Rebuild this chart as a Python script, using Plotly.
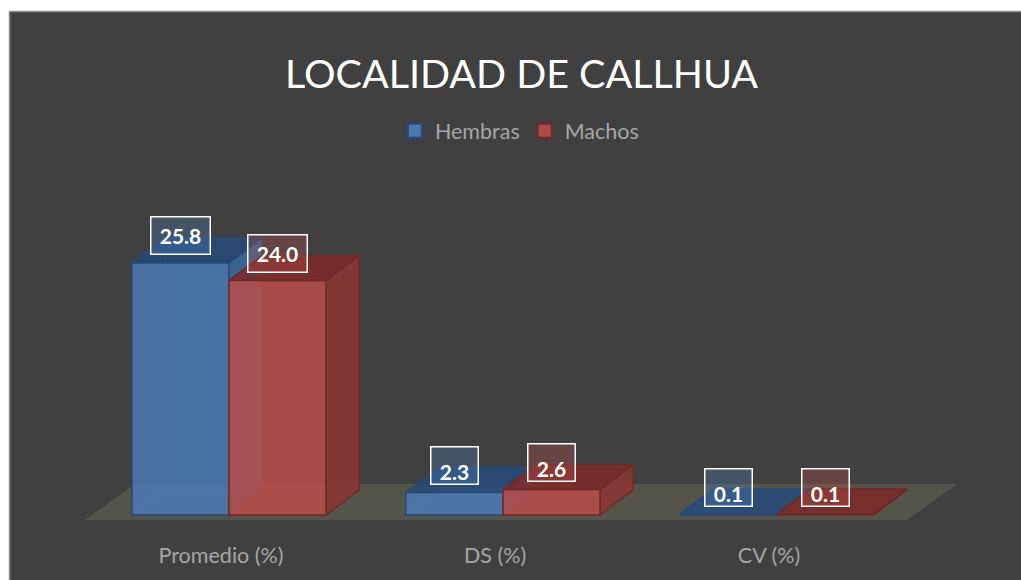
import plotly.graph_objects as go

categories = ["Promedio (%)", "DS (%)", "CV (%)"]
hembras = [25.8, 2.3, 0.1]
machos = [24.0, 2.6, 0.1]
labels_h = ["25.8", "2.3", "0.1"]
labels_m = ["24.0", "2.6", "0.1"]
title = "LOCALIDAD DE CALLHUA"

W, H = 1021, 580
MB = 40
PX_PER_CAT = 274.0
PX_PER_UNIT = 9.77
X0_PX = 229.0   # pixel of first category centre
Y0_PX = 515.0   # pixel of value zero
x_range = [-X0_PX / PX_PER_CAT, (W - X0_PX) / PX_PER_CAT]
y_range = [(Y0_PX - (H - MB)) / PX_PER_UNIT, Y0_PX / PX_PER_UNIT]
BAR_W = 97.0 / PX_PER_CAT
DX = 33.0 / PX_PER_CAT
DY = 25.0 / PX_PER_UNIT

BLUE_FRONT = "rgba(75,122,180,0.85)"
RED_FRONT = "rgba(184,76,73,0.85)"
BLUE_LINE = "#264a75"
RED_LINE = "#6d2a28"
styles = {
    "h": dict(top="rgba(38,74,122,0.85)", side="rgba(58,102,152,0.9)", back="rgba(79,129,189,0.08)",
              line=BLUE_LINE, inner="rgba(70,120,180,0.5)"),
    "m": dict(top="rgba(122,44,41,0.9)", side="rgba(135,55,52,0.9)", back="rgba(192,80,77,0.08)",
              line=RED_LINE, inner="rgba(190,70,65,0.5)"),
}

fig = go.Figure()


def poly(xs, ys, fill, line, width=1.5):
    fig.add_trace(go.Scatter(x=xs + xs[:1], y=ys + ys[:1], mode="lines", fill="toself", fillcolor=fill,
                             line=dict(color=line, width=width), showlegend=False, hoverinfo="skip"))


# floor
fx0, fx1 = -0.5 - 7 / PX_PER_CAT, len(categories) - 0.5 - 7 / PX_PER_CAT
fy0, fd = -5.0 / PX_PER_UNIT, 36.0 / PX_PER_UNIT
fdx = 50.0 / PX_PER_CAT
poly([fx0, fx1, fx1 + fdx, fx0 + fdx], [fy0, fy0, fy0 + fd, fy0 + fd], "rgba(140,135,100,0.28)", "rgba(0,0,0,0)", 0)


def box(left, v, st):
    r = left + BAR_W
    # hidden back faces seen through the translucent front
    poly([left + DX, r + DX, r + DX, left + DX], [DY, DY, v + DY, v + DY], st["back"], st["inner"], 1)
    poly([left, r, r + DX, left + DX], [0, 0, DY, DY], st["back"], st["inner"], 1)
    poly([r, r + DX, r + DX, r], [0, DY, v + DY, v], st["side"], st["line"])
    poly([left, r, r + DX, left + DX], [v, v, v + DY, v + DY], st["top"], st["line"])


for i in range(len(categories)):
    box(i - BAR_W, hembras[i], styles["h"])
    box(i, machos[i], styles["m"])

# front faces on an overlaid axis so they sit above the depth faces
fig.add_trace(go.Bar(x=list(range(len(categories))), y=hembras, showlegend=False, width=BAR_W, offset=-BAR_W,
                     marker=dict(color=BLUE_FRONT, line=dict(color=BLUE_LINE, width=1.5)),
                     yaxis="y2", hoverinfo="skip"))
fig.add_trace(go.Bar(x=list(range(len(categories))), y=machos, showlegend=False, width=BAR_W, offset=0,
                     marker=dict(color=RED_FRONT, line=dict(color=RED_LINE, width=1.5)),
                     yaxis="y2", hoverinfo="skip"))
# legend entries
for name, col, ln in (("Hembras", "#4d79b0", BLUE_LINE), ("Machos", "#ad4a47", RED_LINE)):
    fig.add_trace(go.Scatter(x=[None], y=[None], mode="markers", name=name,
                             marker=dict(symbol="square", size=14, color=col, line=dict(color=ln, width=2))))

font_family = "Lato, 'Open Sans', sans-serif"
annotations = []
for i in range(len(categories)):
    for (vals, labs, off, bg) in ((hembras, labels_h, -BAR_W / 2, "rgba(79,129,189,0.3)"),
                                  (machos, labels_m, BAR_W / 2, "rgba(192,80,77,0.3)")):
        annotations.append(dict(x=i + off, y=vals[i], xref="x", yref="y", text=f"<b>{labs[i]}</b>", showarrow=False,
                                yshift=27, width=58 if len(labs[i]) > 3 else 46, height=36,
                                valign="bottom" if len(labs[i]) == 3 else "middle",
                                font=dict(family=font_family, size=21, color="white"),
                                bgcolor=bg, bordercolor="white", borderwidth=1.5, borderpad=0))

# category labels sit slightly left of the bar pairs
fig.update_layout(
    width=W, height=H, autosize=False,
    margin=dict(l=0, r=0, t=0, b=MB, pad=0),
    paper_bgcolor="white", plot_bgcolor="rgba(0,0,0,0)",
    barmode="overlay",
    title=dict(text=title, x=0.5108, xanchor="center", y=0.872, yanchor="middle",
               font=dict(family=font_family, size=39.5, color="white", weight=400)),
    legend=dict(orientation="h", x=0.5087, xanchor="center", y=0.758, yanchor="middle",
                font=dict(family=font_family, size=21.5, color="#a6a6a6"), bgcolor="rgba(0,0,0,0)",
                itemwidth=30, traceorder="normal"),
    xaxis=dict(range=x_range, tickmode="array", tickvals=[i - 8 / PX_PER_CAT for i in range(len(categories))],
               ticktext=categories,
               showgrid=False, zeroline=False, showline=False, ticks="", fixedrange=True,
               tickfont=dict(family=font_family, size=21.5, color="#a6a6a6")),
    yaxis=dict(range=y_range, visible=False, fixedrange=True),
    yaxis2=dict(range=y_range, overlaying="y", visible=False, fixedrange=True),
    annotations=annotations,
    shapes=[dict(type="rect", xref="paper", yref="paper", x0=9.5 / W, x1=1.02,
                 y0=-0.2, y1=(H - MB - 11.5) / (H - MB), fillcolor="#404040",
                 line=dict(color="#8c8c8c", width=1.5), layer="below")],
)

fig.write_html("out.html", post_script="document.body.style.margin='0';document.body.style.overflow='hidden';",
               config={"displayModeBar": False})
